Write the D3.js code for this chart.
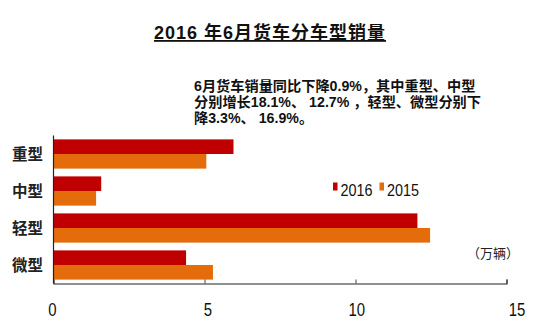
<!DOCTYPE html>
<html>
<head>
<meta charset="utf-8">
<script src="https://cdn.jsdelivr.net/npm/d3@7"></script>
<style>
  html, body { margin: 0; padding: 0; background: #fff; }
  svg { display: block; }
</style>
</head>
<body>
<svg id="chart" width="544" height="334"></svg>
<script>
// ---- data ----
const categories = ["重型", "中型", "轻型", "微型"];
const seriesNames = ["2016", "2015"];
const values2016 = [5.96, 1.58, 12.05, 4.39];
const values2015 = [5.06, 1.41, 12.47, 5.28];
const tickValues = [0, 5, 10, 15];
const titleText = "2016 年6月货车分车型销量";
const noteLines = [
  "6月货车销量同比下降0.9%，其中重型、中型",
  "分别增长18.1%、 12.7% ，轻型、微型分别下",
  "降3.3%、 16.9%。"
];
const unitText = "（万辆）";

// ---- styles ----
const colors = { "2016": "#C00000", "2015": "#E46C0A" };
const latin = "'Liberation Sans', Arial, sans-serif";
const cjk = "'Liberation Sans', Arial, 'Noto Sans CJK SC', sans-serif";

const svg = d3.select("#chart");

const x = d3.scaleLinear().domain([0, 15]).range([53.5, 506.5]);
const y = d3.scaleBand().domain(categories).range([135.5, 283.5])
  .paddingInner(0.21).paddingOuter(0.105);
const ySub = d3.scaleBand().domain(seriesNames).range([0, y.bandwidth()]);

const rows = categories.map((c, i) => ({ cat: c, vals: [
  { s: "2016", v: values2016[i] }, { s: "2015", v: values2015[i] }
]}));

// bars
const g = svg.append("g");
g.selectAll("g.cat").data(rows).join("g")
  .attr("class", "cat")
  .attr("transform", d => `translate(0,${y(d.cat)})`)
  .selectAll("rect").data(d => d.vals).join("rect")
  .attr("x", x(0))
  .attr("y", d => ySub(d.s))
  .attr("width", d => x(d.v) - x(0))
  .attr("height", ySub.bandwidth())
  .attr("fill", d => colors[d.s]);

// x axis (ticks pointing up, inside)
const xAxis = d3.axisBottom(x).tickValues(tickValues).tickSize(-4).tickPadding(20)
  .tickFormat(d3.format("d"));
const ax = svg.append("g").attr("transform", `translate(0,${283.5})`).call(xAxis);
ax.select(".domain").attr("stroke", "#222").attr("stroke-width", 1.2);
ax.selectAll(".tick line").attr("stroke", "#444");
ax.selectAll(".tick").filter(d => d === 0).select("line").remove();
const labelShift = { 0: -1.5, 5: 3, 10: 0.7, 15: 10 };
ax.selectAll(".tick text")
  .attr("font-family", latin).attr("font-size", 18).attr("fill", "#111")
  .attr("dx", d => labelShift[d])
  .attr("textLength", d => String(d).length * 8.3)
  .attr("lengthAdjust", "spacingAndGlyphs");

// y axis line
svg.append("line")
  .attr("x1", x(0)).attr("x2", x(0))
  .attr("y1", y.range()[0]).attr("y2", y.range()[1])
  .attr("stroke", "#222").attr("stroke-width", 1.2);

// category labels
svg.append("g").selectAll("text").data(categories).join("text")
  .attr("x", 27.5)
  .attr("y", d => y(d) + y.bandwidth() / 2)
  .attr("dy", "0.38em")
  .attr("text-anchor", "middle")
  .attr("font-family", cjk).attr("font-weight", "bold").attr("font-size", 15.5)
  .attr("fill", "#222")
  .text(d => d);

// title
svg.append("text")
  .attr("x", 270).attr("y", 39)
  .attr("text-anchor", "middle")
  .attr("font-family", cjk).attr("font-weight", "bold").attr("font-size", 18)
  .attr("letter-spacing", 1)
  .attr("fill", "#111")
  .attr("text-decoration", "underline")
  .text(titleText);

// note
svg.append("g").selectAll("text").data(noteLines).join("text")
  .attr("x", 194)
  .attr("y", (d, i) => 90.5 + i * 16.3)
  .attr("font-family", cjk).attr("font-weight", "bold").attr("font-size", 14.2)
  .attr("fill", "#111")
  .text(d => d);

// legend
const legendX = [333, 379.5];
const lg = svg.append("g").selectAll("g").data(seriesNames).join("g")
  .attr("transform", (d, i) => `translate(${legendX[i]},182.5)`);
lg.append("rect").attr("width", 4.5).attr("height", 8).attr("fill", d => colors[d]);
lg.append("text").attr("x", 7.5).attr("y", 13.3)
  .attr("font-family", latin).attr("font-size", 16.5).attr("fill", "#111")
  .attr("textLength", 32).attr("lengthAdjust", "spacingAndGlyphs")
  .text(d => d);

// unit
svg.append("text")
  .attr("x", 493).attr("y", 258)
  .attr("text-anchor", "middle")
  .attr("font-family", cjk).attr("font-size", 13).attr("fill", "#222")
  .text(unitText);
</script>
</body>
</html>
